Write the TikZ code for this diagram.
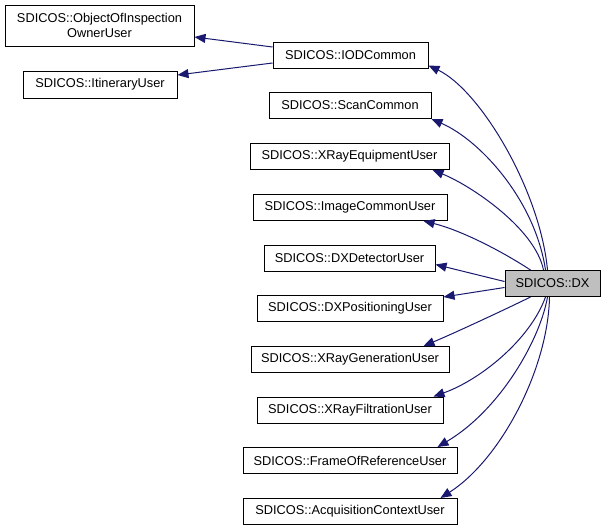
\documentclass[tikz,border=0pt]{standalone}
\usepackage{fontspec}
\setmainfont{Liberation Sans}
\usepackage{tikz}
\usetikzlibrary{arrows.meta}
\definecolor{edgenavy}{RGB}{25, 25, 112}
\definecolor{focusgrey}{RGB}{191, 191, 191}

\begin{document}
\begin{tikzpicture}[
    x=1pt, y=-1pt,
    every node/.style={font=\fontsize{12.8}{15}\selectfont},
    cls/.style={rectangle, draw=black, fill=white, line width=1pt, inner sep=0pt, minimum height=26pt, align=center},
    focus/.style={cls, fill=focusgrey},
    inherit/.style={draw=edgenavy, line width=1pt, -{Triangle[length=11pt, width=9pt]}}
]
\fill[white] (0,0) rectangle (605,530);
\useasboundingbox (0,0) rectangle (605,530);

% Focus class
\node[focus, minimum width=95pt] (dx) at (552.5,283.5) {SDICOS::DX};

% Direct base classes
\node[cls, minimum width=155pt] (iod) at (350.5,55) {SDICOS::IODCommon};
\node[cls, minimum width=162pt] (scan) at (350,105.5) {SDICOS::ScanCommon};
\node[cls, minimum width=199pt] (xeq) at (349.5,156.5) {SDICOS::XRayEquipmentUser};
\node[cls, minimum width=194pt] (img) at (350,207.5) {SDICOS::ImageCommonUser};
\node[cls, minimum width=171pt] (det) at (349.5,258.5) {SDICOS::DXDetectorUser};
\node[cls, minimum width=186pt] (pos) at (350,308.5) {SDICOS::DXPositioningUser};
\node[cls, minimum width=198pt] (gen) at (350,359.5) {SDICOS::XRayGenerationUser};
\node[cls, minimum width=186pt] (filt) at (350,410) {SDICOS::XRayFiltrationUser};
\node[cls, minimum width=214pt] (frame) at (350,460.5) {SDICOS::FrameOfReferenceUser};
\node[cls, minimum width=214pt] (acq) at (350,511.5) {SDICOS::AcquisitionContextUser};

% Bases of IODCommon
\node[cls, minimum width=189pt, minimum height=41pt] (ooi) at (99.5,25.5) {SDICOS::ObjectOfInspection\\OwnerUser};
\node[cls, minimum width=154pt, minimum height=27pt] (itin) at (100,84.5) {SDICOS::ItineraryUser};

% Inheritance edges
\draw[inherit] ([xshift=-5pt]dx.north) .. controls (540,190) and (480,90) .. ([yshift=3pt]iod.south east);
\draw[inherit] ([xshift=-7pt]dx.north) .. controls (535,200) and (480,140) .. (scan.south east);
\draw[inherit] ([xshift=-9pt]dx.north) .. controls (535,228) and (470,185) .. ([xshift=-17pt]xeq.south east);
\draw[inherit] ([xshift=-22pt]dx.north) .. controls (500,250) and (460,230) .. ([xshift=-24pt]img.south east);
\draw[inherit] ([yshift=2pt]dx.west) -- ([yshift=-6pt]det.east);
\draw[inherit] ([yshift=-4pt]dx.west) -- ([yshift=-2pt]pos.north east);
\draw[inherit] ([xshift=-22pt]dx.south) .. controls (500,312) and (450,335) .. ([xshift=-26pt]gen.north east);
\draw[inherit] ([xshift=-7pt]dx.south) .. controls (530,340) and (480,380) .. ([xshift=-10pt]filt.north east);
\draw[inherit] ([xshift=-5pt]dx.south) .. controls (540,340) and (500,410) .. ([xshift=-20pt]frame.north east);
\draw[inherit] ([xshift=-3pt]dx.south) .. controls (548,370) and (500,460) .. ([xshift=-17pt]acq.north east);

\draw[inherit] ([yshift=8pt]iod.west) -- ([yshift=-11.5pt]ooi.east);
\draw[inherit] ([yshift=-8pt]iod.west) -- ([yshift=9.5pt]itin.east);

\end{tikzpicture}
\end{document}
